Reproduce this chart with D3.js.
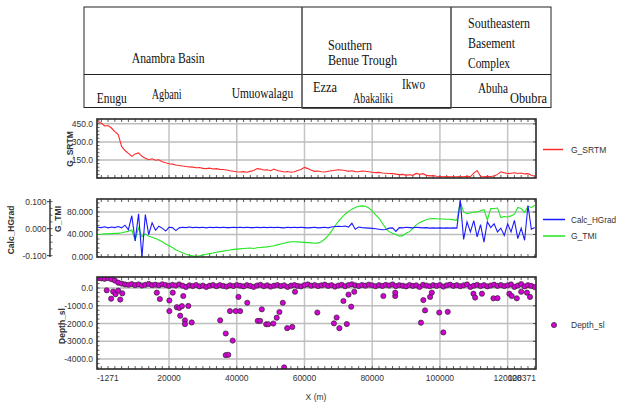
<!DOCTYPE html>
<html>
<head>
<meta charset="utf-8">
<script src="https://cdn.jsdelivr.net/npm/d3@7"></script>
<style>
    body { margin: 0; background: #fff; }
    svg { display: block; }
    .tick-label { font-family: "Liberation Sans", Arial, sans-serif; font-size: 8.5px; fill: #333; }
    .axis-title { font-family: "Liberation Sans", Arial, sans-serif; font-size: 8.5px; font-weight: bold; fill: #333; }
    .legend-text { font-family: "Liberation Sans", Arial, sans-serif; font-size: 8.5px; fill: #333; }
    .tbl { font-family: "Liberation Serif", "Times New Roman", serif; font-size: 15px; fill: #111; }
</style>
</head>
<body>
<div id="chart"></div>
<script>

// profile sampling (m)
const xStart = -1000;
const xStep = 1000;
const xMin = -1271;
const xMax = 128371;

// G_SRTM elevation along the profile
const srtmValues = [470, 455, 432, 436, 415, 385, 360, 262, 228, 205, 180, 200, 208, 180, 165, 152, 160, 148, 152, 135,
    126, 118, 115, 108, 104, 99, 96, 92, 90, 85, 87, 80, 78, 82, 75, 78, 72, 70, 66, 60,
    56, 52, 50, 53, 48, 55, 62, 78, 74, 66, 68, 60, 74, 62, 56, 50, 54, 48, 52, 62,
    70, 88, 78, 64, 55, 58, 52, 50, 56, 60, 64, 68, 66, 62, 55, 60, 53, 52, 58, 56,
    52, 48, 45, 47, 42, 40, 38, 36, 32, 28, 30, 24, 27, 22, 38, 30, 36, 22, 18, 20,
    14, 12, 10, 12, 9, 11, 10, 12, 10, 14, 12, 40, 62, 12, 10, 14, 12, 16, 30, 52,
    44, 36, 40, 44, 38, 42, 34, 36, 22, 15];

// G_TMI
const tmiValues = [40, 40.5, 41, 41, 41.5, 42, 42, 43, 44.5, 46, 48, 30, 52, 36, 41, 37, 35, 33, 30, 27,
    23, 20, 17, 13, 10, 7.5, 5, 3, 2, 1.2, 2, 3.5, 5, 6, 7, 8.5, 9.5, 10.5, 11.5, 12.5,
    13.5, 14, 14.5, 15, 15.5, 16, 15, 16.5, 17, 17.5, 18, 19, 20, 21.5, 23, 24.5, 26, 27, 27, 26.8,
    26.5, 26, 25.5, 25, 24.5, 25, 27, 32, 38, 46, 55, 63, 70, 76, 81, 85, 88, 90, 90.7, 90,
    87, 82, 75, 69, 60, 51, 45, 42, 40, 37, 38, 42, 45, 51, 57, 61, 64, 66, 68, 68.5,
    68, 67.5, 67.5, 67, 67, 66, 65, 98, 80, 77, 78, 80, 80, 82, 84, 66, 86, 86, 87, 70,
    72, 71, 73, 76, 88, 86, 79, 90, 88, 92];

// Calc_HGrad
const hgradValues = [0.005, 0.004, 0.007, 0.003, 0.006, 0.004, 0.008, 0.003, 0.013, -0.004,
    0.048, -0.045, 0.055, -0.105, 0.052, -0.022, 0.022, -0.006, 0.009, 0.002,
    -0.009, 0.005, 0.004, -0.007, 0.003, 0.005, 0.004, 0.006, 0.004, 0.005,
    0.004, 0.005, 0.003, 0.005, 0.004, 0.005, 0.004, 0.005, 0.004, 0.004,
    0.005, 0.004, 0.005, 0.004, 0.005, 0.004, 0.004, 0.005, 0.004, 0.005,
    0.004, 0.005, 0.004, 0.005, 0.004, 0.003, 0.005, 0.004, 0.005, 0.004,
    0.005, 0.004, 0.003, 0.004, 0.005, 0.003, 0.004, 0.005, 0.003, 0.006,
    0.008, 0.009, 0.008, 0.010, 0.006, 0.020, -0.002, 0.006, 0.004, 0.003,
    0.002, 0.001, 0.000, -0.002, -0.004, -0.003, 0.002, 0.003, -0.010, 0.004,
    0.003, 0.005, 0.004, 0.003, 0.005, 0.004, 0.003, 0.004, 0.002, 0.003,
    0.002, 0.003, 0.002, 0.003, 0.002, 0.003, 0.002, 0.105, -0.040, 0.025,
    -0.012, 0.030, -0.030, 0.015, -0.050, 0.025, 0.004, 0.018, -0.012, 0.002,
    -0.025, 0.018, -0.012, 0.031, -0.037, 0.002, -0.043, 0.086, -0.002, 0.004];

// Depth_sl : shallow solutions along the profile
const depthBand = [560, 540, 520, 560, 500, 420, 300, 250, 200, 180, 220, 160, 200, 140, 180, 230, 160, 190, 150, 210,
    170, 120, 180, 140, 200, 130, 60, 150, 110, 170, 90, 140, 60, 130, 170, 100, 160, 120, 80, 150,
    110, 170, 130, 90, 160, 120, 60, 140, 180, 100, 150, 80, 130, 170, 110, 150, 60, 130, 170, 120,
    90, 160, 200, 130, 170, 110, 150, 190, 120, 160, 80, 140, 180, 100, 170, 210, 150, 110, 170, 130,
    190, 150, 100, 160, 120, 180, 140, 200, 110, 160, 130, 90, 170, 120, 150, 60, 180, 140, 100, 160,
    120, 170, 80, 150, 190, 120, 160, 100, 150, 200, 60, 130, 180, 110, 160, 90, 140, 190, 120, 170,
    110, 150, 200, 60, 140, 220, 90, 160, 120, 50];

// Depth_sl : deeper solutions
const depthPtX = [1600, 2900, 3500, 4200, 5000, 5600, 6200, 16400, 17300, 20100, 20100, 21100, 22300, 23000, 23300,
    23800, 24200, 24700, 24700, 25700, 26700, 35100, 36750, 36750, 37500, 38000, 38800, 39700, 40500, 41000,
    43100, 46200, 46900, 47400, 48700, 49300, 50800, 51800, 52600, 53600, 54000, 54900, 56400, 57200, 63800,
    68700, 69500, 70300, 71500, 72500, 73000, 73800, 74700, 83300, 86800, 86800, 94400, 95100, 95600, 97100,
    97600, 99800, 101000, 102300, 109900, 110400, 112400, 115800, 117000, 120500, 121200, 122700, 124000, 125700, 126600];
const depthPtY = [-130, -600, -200, -350, -150, -650, -300, -260, -620, -700, -1300, -260, -1080, -1120, -1560,
    -1020, -450, -1820, -2030, -1010, -1940, -1820, -2560, -3780, -3760, -1300, -2960, -1300, -500, -1300,
    -830, -1850, -1850, -1200, -2040, -2040, -2000, -1670, -1350, -830, -4470, -2260, -2190, -210, -1380,
    -1990, -1660, -2260, -730, -2030, -370, -1050, -210, -450, -450, -260, -1950, -680, -1260, -500,
    -260, -1380, -2500, -1340, -320, -540, -320, -580, -570, -320, -450, -580, -210, -260, -500];

// ticks
const xTickValues = [-1271, 20000, 40000, 60000, 80000, 100000, 120000, 128371];
const xGridValues = [20000, 40000, 60000, 80000, 100000, 120000];
const srtmTicks = [150, 300, 450];
const tmiTicks = [0, 40, 80];
const hgradTicks = [-0.1, 0, 0.1];
const depthTicks = [0, -1000, -2000, -3000, -4000];

// geology table
const regionNames = ["Anambra Basin", ["Southern", "Benue Trough"], ["Southeastern", "Basement", "Complex"]];
const townNames = ["Enugu", "Agbani", "Umuowalagu", "Ezza", "Ikwo", "Abakaliki", "Abuha", "Obubra"];

/* * * * * * * * * * * * * * */

const fmt = d3.formatLocale({decimal: ".", thousands: ",", grouping: [3], currency: ["", ""], minus: "-"});

const svg = d3.select("#chart").append("svg")
    .attr("width", 619)
    .attr("height", 406)
    .style("background", "#fff");

const plotLeft = 97, plotRight = 536;

const x = d3.scaleLinear().domain([xMin, xMax]).range([plotLeft, plotRight]);
const xOf = i => xStart + i * xStep;

// ---------- table ----------
let tbl = svg.append("g");
let tL = 84, tR = 551, tT = 7, tM = 74.5, tB = 107.5, d1 = 302, d2 = 451;

tbl.append("rect").attr("x", tL).attr("y", tT).attr("width", tR - tL).attr("height", tB - tT)
    .attr("fill", "none").attr("stroke", "#222").attr("stroke-width", 1);
tbl.append("line").attr("x1", tL).attr("x2", tR).attr("y1", tM).attr("y2", tM).attr("stroke", "#222");
[d1, d2].forEach(d => {
    tbl.append("line").attr("x1", d).attr("x2", d).attr("y1", tT).attr("y2", tB + 1)
        .attr("stroke", "#444").attr("stroke-width", 1.5);
});
tbl.append("line").attr("x1", d1).attr("x2", d2).attr("y1", tB + 1).attr("y2", tB + 1)
    .attr("stroke", "#555").attr("stroke-width", 1);

// placement of each label in the table: [x, baseline, width]
let regionPos = [[[131.7, 63, 73]], [[328, 50, 44], [328, 65, 69]], [[468, 28.3, 62], [468, 48.3, 47], [468, 68.3, 42]]];
let townPos = [[96.7, 103, 30], [151.7, 99.3, 30], [231.7, 98.3, 61.6], [313, 91.7, 24],
    [402, 89.3, 23], [353, 103.3, 40], [478, 93.3, 30], [510, 103.3, 37]];

function tableText(txt, p) {
    tbl.append("text").attr("class", "tbl")
        .attr("x", p[0]).attr("y", p[1])
        .attr("textLength", p[2]).attr("lengthAdjust", "spacingAndGlyphs")
        .text(txt);
}
regionNames.forEach((r, i) => {
    let lines = Array.isArray(r) ? r : [r];
    lines.forEach((l, j) => tableText(l, regionPos[i][j]));
});
townNames.forEach((t, i) => tableText(t, townPos[i]));

// ---------- panels ----------
function makePanel(id, top, bottom, y, yTicks, yFormat, yMinorStep) {
    let g = svg.append("g");

    g.append("clipPath").attr("id", "clip-" + id)
        .append("rect").attr("x", plotLeft).attr("y", top)
        .attr("width", plotRight - plotLeft).attr("height", bottom - top);

    // grid
    g.selectAll(".vgrid").data(xGridValues).enter().append("line")
        .attr("x1", d => x(d)).attr("x2", d => x(d))
        .attr("y1", top).attr("y2", bottom)
        .attr("stroke", "#c4c4c4").attr("stroke-width", 1.5);
    g.selectAll(".hgrid").data(yTicks.filter(d => y(d) > top + 2 && y(d) < bottom - 2)).enter().append("line")
        .attr("x1", plotLeft).attr("x2", plotRight)
        .attr("y1", d => y(d)).attr("y2", d => y(d))
        .attr("stroke", "#bdbdbd").attr("stroke-width", 1.5);

    // minor x ticks on top and bottom
    let xm = d3.range(0, xMax, 2000);
    g.selectAll(".xt").data(xm).enter().append("line")
        .attr("x1", d => x(d)).attr("x2", d => x(d))
        .attr("y1", top).attr("y2", top + 3)
        .attr("stroke", "#333").attr("stroke-width", 0.8);
    g.selectAll(".xb").data(xm).enter().append("line")
        .attr("x1", d => x(d)).attr("x2", d => x(d))
        .attr("y1", bottom).attr("y2", bottom - 3)
        .attr("stroke", "#333").attr("stroke-width", 0.8);

    // y ticks
    let dom = y.domain();
    let ym = d3.range(Math.ceil(dom[0] / yMinorStep) * yMinorStep, dom[1], yMinorStep);
    g.selectAll(".yl").data(ym).enter().append("line")
        .attr("x1", plotLeft).attr("x2", plotLeft + 2.5)
        .attr("y1", d => y(d)).attr("y2", d => y(d))
        .attr("stroke", "#333").attr("stroke-width", 0.8);
    g.selectAll(".yr").data(yTicks).enter().append("line")
        .attr("x1", plotRight).attr("x2", plotRight - 3)
        .attr("y1", d => y(d)).attr("y2", d => y(d))
        .attr("stroke", "#333").attr("stroke-width", 0.8);
    g.selectAll(".ylab").data(yTicks).enter().append("text")
        .attr("class", "tick-label")
        .attr("x", plotLeft - 4).attr("y", d => y(d) + 3)
        .attr("text-anchor", "end")
        .text(d => yFormat(d));

    let plot = svg.append("g").attr("clip-path", "url(#clip-" + id + ")");

    // frame on top
    let frame = () => svg.append("rect")
        .attr("x", plotLeft).attr("y", top)
        .attr("width", plotRight - plotLeft).attr("height", bottom - top)
        .attr("fill", "none").attr("stroke", "#2a2a2a").attr("stroke-width", 1.6);

    return {plot: plot, frame: frame};
}

function rotTitle(txt, cx, cy) {
    svg.append("text").attr("class", "axis-title")
        .attr("transform", `translate(${cx},${cy}) rotate(-90)`)
        .attr("text-anchor", "middle").attr("dy", "0.35em")
        .text(txt);
}

// panel 1 : G_SRTM
let ySrtm = d3.scaleLinear().domain([0, 490]).range([178, 119]);
let p1 = makePanel("srtm", 119, 178, ySrtm, srtmTicks, fmt.format(".1f"), 30);
p1.plot.append("path")
    .datum(srtmValues)
    .attr("fill", "none").attr("stroke", "#ff2a2a").attr("stroke-width", 1.1)
    .attr("d", d3.line().x((d, i) => x(xOf(i))).y(d => ySrtm(d)));
p1.frame();
rotTitle("G_SRTM", 70, 149);

svg.append("line").attr("x1", 543).attr("x2", 563).attr("y1", 149.5).attr("y2", 149.5)
    .attr("stroke", "#ff2a2a").attr("stroke-width", 1.5);
svg.append("text").attr("class", "legend-text").attr("x", 571).attr("y", 153).text("G_SRTM");

// panel 2 : Calc_HGrad + G_TMI
let yTmi = d3.scaleLinear().domain([0, 103]).range([257, 199]);
let yGrad = d3.scaleLinear().domain([-0.105, 0.11]).range([257, 199]);
let p2 = makePanel("tmi", 199, 257, yTmi, tmiTicks, fmt.format(".3f"), 8);
p2.plot.append("path")
    .datum(tmiValues)
    .attr("fill", "none").attr("stroke", "#22e622").attr("stroke-width", 1.1)
    .attr("d", d3.line().x((d, i) => x(xOf(i))).y(d => yTmi(d)));
p2.plot.append("path")
    .datum(hgradValues)
    .attr("fill", "none").attr("stroke", "#1a1aff").attr("stroke-width", 1.1)
    .attr("d", d3.line().x((d, i) => x(xOf(i))).y(d => yGrad(d)));
p2.frame();

// second axis for Calc_HGrad
let gAx = svg.append("g");
gAx.append("line").attr("x1", 50).attr("x2", 50).attr("y1", 199).attr("y2", 257)
    .attr("stroke", "#2a2a2a").attr("stroke-width", 1.4);
gAx.selectAll(".gm").data(d3.range(-0.1, 0.101, 0.025)).enter().append("line")
    .attr("x1", 50).attr("x2", 52.5)
    .attr("y1", d => yGrad(d)).attr("y2", d => yGrad(d))
    .attr("stroke", "#333").attr("stroke-width", 0.8);
gAx.selectAll(".gt").data(hgradTicks).enter().append("line")
    .attr("x1", 47).attr("x2", 50)
    .attr("y1", d => yGrad(d)).attr("y2", d => yGrad(d))
    .attr("stroke", "#333").attr("stroke-width", 1);
gAx.selectAll(".gl").data(hgradTicks).enter().append("text")
    .attr("class", "tick-label")
    .attr("x", 46.5).attr("y", d => yGrad(d) + 3)
    .attr("text-anchor", "end")
    .text(d => fmt.format(".3f")(d));

rotTitle("G_TMI", 58, 219);
rotTitle("Calc_HGrad", 11, 230);

svg.append("line").attr("x1", 543).attr("x2", 565).attr("y1", 219.5).attr("y2", 219.5)
    .attr("stroke", "#1a1aff").attr("stroke-width", 1.5);
svg.append("text").attr("class", "legend-text").attr("x", 571).attr("y", 222.5)
    .attr("textLength", 45).attr("lengthAdjust", "spacingAndGlyphs")
    .text("Calc_HGrad");
svg.append("line").attr("x1", 543).attr("x2", 565).attr("y1", 236).attr("y2", 236)
    .attr("stroke", "#22e622").attr("stroke-width", 1.5);
svg.append("text").attr("class", "legend-text").attr("x", 571).attr("y", 239).text("G_TMI");

// panel 3 : Depth_sl
let yDepth = d3.scaleLinear().domain([-4560, 620]).range([369, 277]);
let p3 = makePanel("depth", 277, 369, yDepth, depthTicks, fmt.format(".1f"), 250);

let depthData = depthBand.map((d, i) => ({x: xOf(i), y: d}))
    .concat(depthPtX.map((d, i) => ({x: d, y: depthPtY[i]})));

p3.plot.selectAll(".dot").data(depthData).enter().append("circle")
    .attr("cx", d => x(d.x)).attr("cy", d => yDepth(d.y))
    .attr("r", 2.6)
    .attr("fill", "#d400d4").attr("stroke", "#2a2a2a").attr("stroke-width", 0.7);
p3.frame();
rotTitle("Depth_sl", 62, 326);

svg.append("circle").attr("cx", 554).attr("cy", 325).attr("r", 2.6)
    .attr("fill", "#d400d4").attr("stroke", "#2a2a2a").attr("stroke-width", 0.7);
svg.append("text").attr("class", "legend-text").attr("x", 571).attr("y", 328).text("Depth_sl");

// x axis labels (the last two overlap in the original too)
svg.selectAll(".xlab").data(xTickValues).enter().append("text")
    .attr("class", "tick-label")
    .attr("x", d => d === xMin ? plotLeft : (d === xMax ? plotRight : x(d)))
    .attr("y", 381)
    .attr("text-anchor", d => d === xMin ? "start" : (d === xMax ? "end" : "middle"))
    .text(d => d);

svg.append("text").attr("class", "tick-label")
    .attr("x", 316).attr("y", 400).attr("text-anchor", "middle")
    .text("X (m)");

</script>
</body>
</html>
